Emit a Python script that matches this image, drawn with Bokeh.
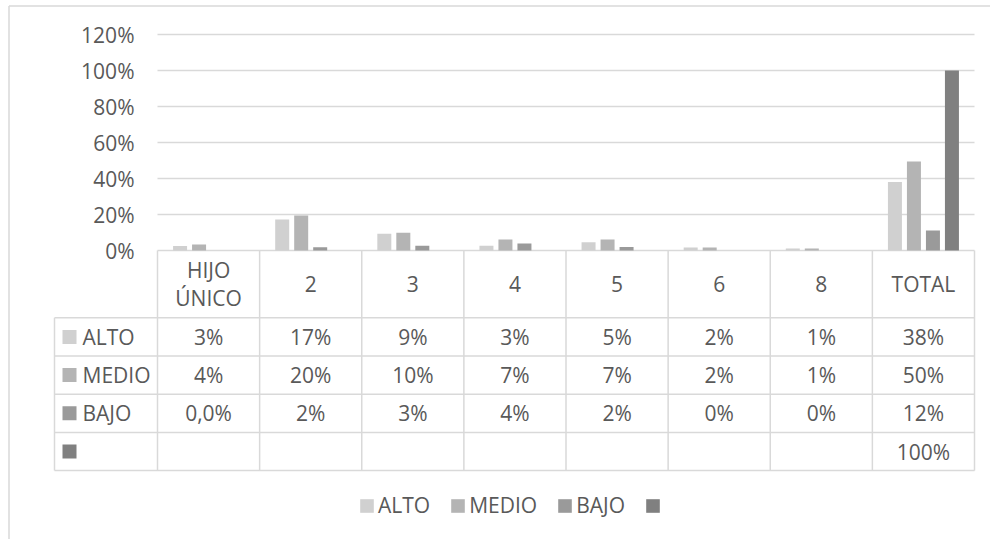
from bokeh.plotting import figure
from bokeh.models import (Range1d, LinearAxis, FixedTicker, NumeralTickFormatter,
                          Legend, LegendItem)
from bokeh.core.properties import value
from bokeh.embed import file_html
from bokeh.resources import INLINE

NAN = float("nan")

# ---------------- data ----------------
categories = ["HIJO\nÚNICO", "2", "3", "4", "5", "6", "8", "TOTAL"]
series_names = ["ALTO", "MEDIO", "BAJO", ""]
alto = [0.025, 0.172, 0.093, 0.026, 0.046, 0.017, 0.011, 0.381]
medio = [0.033, 0.195, 0.098, 0.061, 0.061, 0.017, 0.011, 0.494]
bajo = [0.0, 0.018, 0.026, 0.039, 0.019, 0.0, 0.0, 0.111]
total = [NAN, NAN, NAN, NAN, NAN, NAN, NAN, 1.0]
alto_labels = ["3%", "17%", "9%", "3%", "5%", "2%", "1%", "38%"]
medio_labels = ["4%", "20%", "10%", "7%", "7%", "2%", "1%", "50%"]
bajo_labels = ["0,0%", "2%", "3%", "4%", "2%", "0%", "0%", "12%"]
total_labels = ["", "", "", "", "", "", "", "100%"]
y_ticks = [0, 0.2, 0.4, 0.6, 0.8, 1.0, 1.2]

# ---------------- style / layout ----------------
colors = ["#d0d0d0", "#b4b4b4", "#9a9a9a", "#808080"]
TEXT = "#595959"
LINE = "#d9d9d9"
FONT_NAME = "Open Sans"
FONT = value(FONT_NAME)
FS = "21px"

W, H = 990, 539
X0 = 157.0          # canvas x of category 0 left edge
CAT_W = 102.125     # px per category
Y0 = 250.0          # canvas y of 0%
PX_PER_UNIT = 180.0
BAR_W = 14.0
BAR_STEP = 19.0
HEADER_H = 67.3
ROW_H = 38.2
LEFT_X = 54.0
BORDER_X = 8.5
BORDER_Y = 5.5

x_range = Range1d(-X0 / CAT_W, (W - X0) / CAT_W)
y_range = Range1d(-(H - Y0) / PX_PER_UNIT, Y0 / PX_PER_UNIT)

p = figure(width=W, height=H, output_backend="svg", toolbar_location=None,
           x_range=x_range, y_range=y_range,
           x_axis_location=None, y_axis_location=None,
           min_border=0, min_border_left=0, min_border_right=0,
           min_border_top=0, min_border_bottom=0,
           outline_line_color=None, background_fill_color="white",
           border_fill_color="white")
p.xgrid.visible = False
p.ygrid.visible = False
p.extra_x_ranges = {"px": Range1d(0, W)}
p.extra_y_ranges = {"px": Range1d(H, 0)}

n = len(categories)
centers = [i + 0.5 for i in range(n)]

# gridlines (through main scales)
p.segment(x0=[0] * len(y_ticks), x1=[n] * len(y_ticks), y0=y_ticks, y1=y_ticks,
          line_color=LINE, line_width=1.5)

# bars
series = [alto, medio, bajo, total]
renderers = []
for k, vals in enumerate(series):
    off = (k - 1.5) * BAR_STEP / CAT_W
    r = p.vbar(x=[c + off for c in centers], top=vals, bottom=0,
               width=BAR_W / CAT_W, fill_color=colors[k], line_color=None)
    renderers.append(r)

# y axis
ax = LinearAxis(ticker=FixedTicker(ticks=y_ticks),
                formatter=NumeralTickFormatter(format="0%"),
                fixed_location=0,
                axis_line_color=None, major_tick_line_color=None,
                minor_tick_line_color=None, major_label_standoff=17,
                major_label_text_font=FONT_NAME, major_label_text_font_size=FS,
                major_label_text_color=TEXT)
p.add_layout(ax, "left")

# ---------------- data table ----------------
header_top = Y0
header_mid = header_top + HEADER_H / 2
row_tops = [header_top + HEADER_H + i * ROW_H for i in range(5)]
row_mids = [row_tops[i] + ROW_H / 2 for i in range(4)]
table_bottom = row_tops[-1]

# horizontal lines (rows)
p.segment(x0=[LEFT_X] * 5, x1=[X0 + n * CAT_W] * 5, y0=row_tops, y1=row_tops,
          x_range_name="px", y_range_name="px", line_color=LINE, line_width=1.5)
# vertical lines at category boundaries
p.segment(x0=list(range(n + 1)), x1=list(range(n + 1)),
          y0=[header_top] * (n + 1), y1=[table_bottom] * (n + 1),
          y_range_name="px", line_color=LINE, line_width=1.5)
# left column outer line
p.segment(x0=[LEFT_X], x1=[LEFT_X], y0=[row_tops[0]], y1=[table_bottom],
          x_range_name="px", y_range_name="px", line_color=LINE, line_width=1.5)

# header labels
p.text(x=centers, y=[header_mid] * n, text=categories, y_range_name="px",
       text_align="center", text_baseline="middle", text_font=FONT,
       text_font_size=FS, text_color=TEXT, text_line_height=1.0)

# cells
all_labels = [alto_labels, medio_labels, bajo_labels, total_labels]
for k, labs in enumerate(all_labels):
    p.text(x=centers, y=[row_mids[k]] * n, text=labs, y_range_name="px",
           text_align="center", text_baseline="middle", text_font=FONT,
           text_font_size=FS, text_color=TEXT)

# row headers: swatch + name
p.scatter(x=[LEFT_X + 15] * 4, y=row_mids, marker="square", size=14,
          fill_color=colors, line_color=None,
          x_range_name="px", y_range_name="px")
p.text(x=[LEFT_X + 28] * 4, y=row_mids, text=series_names,
       x_range_name="px", y_range_name="px",
       text_align="left", text_baseline="middle", text_font=FONT,
       text_font_size=FS, text_color=TEXT)

# chart border (left, top)
p.segment(x0=[BORDER_X, BORDER_X], x1=[BORDER_X, W], y0=[BORDER_Y, BORDER_Y],
          y1=[H, BORDER_Y],
          x_range_name="px", y_range_name="px", line_color=LINE, line_width=1.5)

# ---------------- legend ----------------
legend = Legend(items=[LegendItem(label=series_names[k], renderers=[renderers[k]])
                       for k in range(4)],
                orientation="horizontal", location=(358, 20),
                glyph_width=17, glyph_height=17, label_standoff=3, spacing=19,
                padding=0, margin=0, border_line_color=None,
                background_fill_alpha=0,
                label_text_font=FONT_NAME, label_text_font_size=FS,
                label_text_color=TEXT, label_height=14)
p.add_layout(legend, "center")

open("out.html", "w").write(file_html(p, INLINE))
